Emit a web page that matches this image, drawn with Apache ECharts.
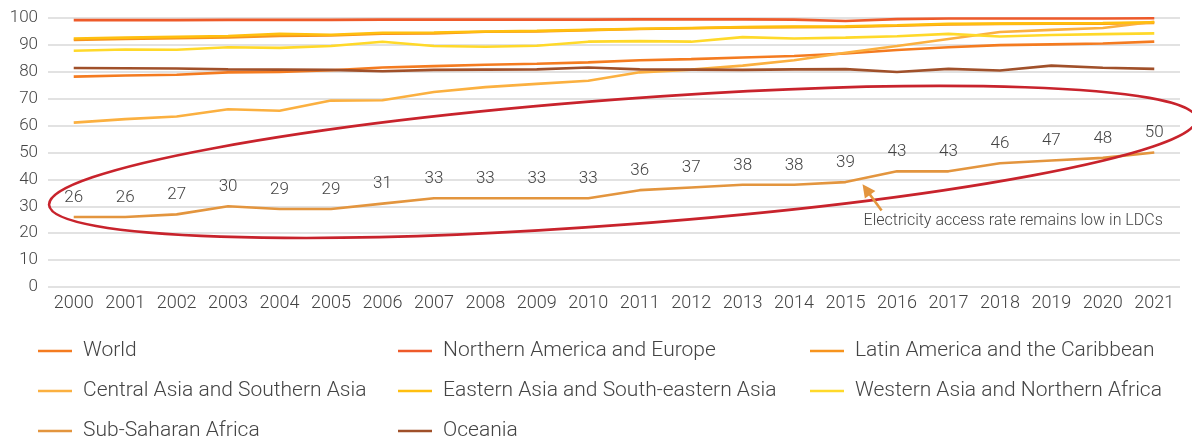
<!DOCTYPE html>
<html>
<head>
<meta charset="utf-8">
<script src="https://cdn.jsdelivr.net/npm/echarts@6/dist/echarts.min.js"></script>
<style>
  html, body { margin: 0; padding: 0; background: #ffffff; }
  #chart { width: 1192px; height: 439px; }
</style>
</head>
<body>
<div id="chart"></div>
<script>
// Share of population with access to electricity (%), 2000–2021
const years = ['2000','2001','2002','2003','2004','2005','2006','2007','2008','2009','2010',
               '2011','2012','2013','2014','2015','2016','2017','2018','2019','2020','2021'];

const yTicks = { min: 0, max: 100, step: 10 };

const seriesNames = [
  'World',
  'Northern America and Europe',
  'Latin America and the Caribbean',
  'Central Asia and Southern Asia',
  'Eastern Asia and South-eastern Asia',
  'Western Asia and Northern Africa',
  'Sub-Saharan Africa',
  'Oceania'
];

const world        = [78.2, 78.6, 78.9, 79.8, 79.9, 80.6, 81.6, 82.1, 82.6, 83.0, 83.5,
                      84.3, 84.7, 85.3, 85.9, 86.8, 88.1, 89.1, 89.9, 90.2, 90.5, 91.2];
const northAmEur   = [99.2, 99.2, 99.2, 99.3, 99.3, 99.3, 99.4, 99.4, 99.4, 99.4, 99.4,
                      99.5, 99.5, 99.5, 99.4, 98.9, 99.6, 99.8, 99.8, 99.8, 99.8, 99.9];
const latAmCarib   = [91.8, 92.2, 92.5, 92.8, 93.3, 93.5, 94.2, 94.3, 94.9, 95.0, 95.5,
                      95.9, 96.2, 96.5, 96.6, 96.7, 97.1, 97.6, 97.8, 97.9, 97.9, 98.2];
const centralSouthAsia = [61.1, 62.4, 63.4, 66.1, 65.5, 69.3, 69.4, 72.5, 74.3, 75.5, 76.7,
                      79.8, 80.8, 82.3, 84.3, 87.1, 89.6, 92.2, 94.8, 95.6, 96.3, 98.6];
const eastSEAsia   = [92.4, 92.7, 93.0, 93.3, 94.1, 93.8, 94.5, 94.6, 95.0, 95.2, 95.6,
                      96.0, 96.3, 96.6, 96.8, 96.9, 97.3, 97.8, 97.9, 98.0, 98.1, 98.4];
const westAsiaNAfr = [87.8, 88.3, 88.2, 89.1, 88.9, 89.6, 91.2, 89.6, 89.3, 89.7, 91.2,
                      91.4, 91.2, 92.9, 92.4, 92.7, 93.2, 94.1, 93.1, 93.7, 94.0, 94.3];
const subSaharan   = [26, 26, 27, 30, 29, 29, 31, 33, 33, 33, 33,
                      36, 37, 38, 38, 39, 43, 43, 46, 47, 48, 50];
const oceania      = [81.4, 81.3, 81.2, 80.9, 80.8, 80.7, 80.2, 80.7, 80.8, 80.9, 81.6,
                      80.9, 80.8, 80.7, 80.9, 81.0, 79.9, 81.1, 80.5, 82.3, 81.5, 81.1];

const annotationText = 'Electricity access rate remains low in LDCs';

const seriesValues = [world, northAmEur, latAmCarib, centralSouthAsia,
                      eastSEAsia, westAsiaNAfr, subSaharan, oceania];

const palette = ['#f47b20', '#ee5a2a', '#f7941d', '#fbb040',
                 '#ffbf0f', '#ffd92a', '#e3953e', '#a0502a'];

const textColor = '#444444';
const fontFamily = 'Roboto, "Noto Sans", sans-serif';

const chart = echarts.init(document.getElementById('chart'), null, { renderer: 'canvas' });

const series = seriesNames.map((name, i) => {
  const s = {
    name: name,
    type: 'line',
    data: seriesValues[i],
    symbol: 'none',
    smooth: false,
    color: palette[i],
    lineStyle: { width: 2.6, color: palette[i] },
    emphasis: { disabled: true },
    z: 2 + i
  };
  if (name === 'Sub-Saharan Africa') {
    // labels need symbols to attach to; keep them invisible
    s.symbol = 'circle';
    s.symbolSize = 0;
    s.showSymbol = true;
    s.showAllSymbol = true;
    s.label = {
      show: true,
      position: 'top',
      distance: 11,
      color: textColor,
      fontSize: 17,
      fontFamily: fontFamily,
      fontWeight: 300
    };
  }
  return s;
});

// legend: three columns, three rows, one legend block per entry
const legendSlots = [
  [38, 351], [398, 351], [810, 351],
  [38, 391], [398, 391], [810, 391],
  [38, 431], [398, 431]
];
const legendOrder = [0, 1, 2, 3, 4, 5, 6, 7];
const legends = legendOrder.map((si, k) => ({
  data: [seriesNames[si]],
  orient: 'horizontal',
  left: legendSlots[k][0],
  top: legendSlots[k][1] - 12,
  padding: 0,
  icon: 'rect',
  itemWidth: 34,
  itemHeight: 2.5,
  selectedMode: false,
  textStyle: {
    color: textColor,
    fontSize: 21,
    lineHeight: 24,
    fontFamily: fontFamily,
    fontWeight: 300,
    padding: [0, 0, 0, 6]
  }
}));

chart.setOption({
  backgroundColor: '#ffffff',
  animation: false,
  grid: { left: 48, right: 12, top: 18, bottom: 152, containLabel: false },
  xAxis: {
    type: 'category',
    data: years,
    boundaryGap: true,
    axisLine: { show: false },
    axisTick: { show: false },
    axisLabel: {
      interval: 0,
      color: textColor,
      fontSize: 18,
      fontFamily: fontFamily,
      fontWeight: 300,
      margin: 7
    }
  },
  yAxis: {
    type: 'value',
    min: yTicks.min,
    max: yTicks.max,
    interval: yTicks.step,
    axisLine: { show: false },
    axisTick: { show: false },
    axisLabel: {
      color: textColor,
      fontSize: 17,
      fontFamily: fontFamily,
      fontWeight: 300,
      margin: 10
    },
    splitLine: { lineStyle: { color: '#d9d9d9', width: 1.5 } }
  },
  legend: legends,
  series: series
});

// Highlight ellipse around the Sub-Saharan Africa series and the callout arrow
function toPx(i, v) {
  return chart.convertToPixel({ gridIndex: 0 }, [i, v]);
}
function atFrac(idx, v) {
  const i0 = Math.floor(idx);
  const a = toPx(i0, v), b = toPx(i0 + 1, v);
  const f = idx - i0;
  return [a[0] + f * (b[0] - a[0]), a[1]];
}

const catW = toPx(1, 0)[0] - toPx(0, 0)[0];
const tenH = toPx(0, 0)[1] - toPx(0, 10)[1];

const ellipseCenter = atFrac(10.67, 46.5);
const ellipseRx = 11.18 * catW;
const ellipseRy = 2.33 * tenH;

const head = atFrac(15.33, 38.2);
const tail = atFrac(15.70, 28.4);
const dx = head[0] - tail[0], dy = head[1] - tail[1];
const len = Math.sqrt(dx * dx + dy * dy);
const ux = dx / len, uy = dy / len;
const headLen = 13, headHalf = 6.5;
const base = [head[0] - ux * headLen, head[1] - uy * headLen];
const arrowHead = [
  head,
  [base[0] - uy * headHalf, base[1] + ux * headHalf],
  [base[0] + uy * headHalf, base[1] - ux * headHalf]
];
const textPos = atFrac(15.33, 24.4);

chart.setOption({
  graphic: [
    {
      type: 'ellipse',
      x: ellipseCenter[0],
      y: ellipseCenter[1],
      rotation: 0.075,
      shape: { cx: 0, cy: 0, rx: ellipseRx, ry: ellipseRy },
      style: { fill: 'none', stroke: '#c8232c', lineWidth: 2.6 },
      silent: true,
      z: 20
    },
    {
      type: 'line',
      shape: { x1: tail[0], y1: tail[1], x2: base[0] + ux * 2, y2: base[1] + uy * 2 },
      style: { stroke: '#e3953e', lineWidth: 2.6 },
      silent: true,
      z: 21
    },
    {
      type: 'polygon',
      shape: { points: arrowHead },
      style: { fill: '#e3953e' },
      silent: true,
      z: 21
    },
    {
      type: 'text',
      x: textPos[0] + 1,
      y: textPos[1],
      style: {
        text: annotationText,
        fill: textColor,
        fontSize: 16,
        fontFamily: fontFamily,
        fontWeight: 300,
        verticalAlign: 'middle',
        align: 'left'
      },
      silent: true,
      z: 21
    }
  ]
});
</script>
</body>
</html>
